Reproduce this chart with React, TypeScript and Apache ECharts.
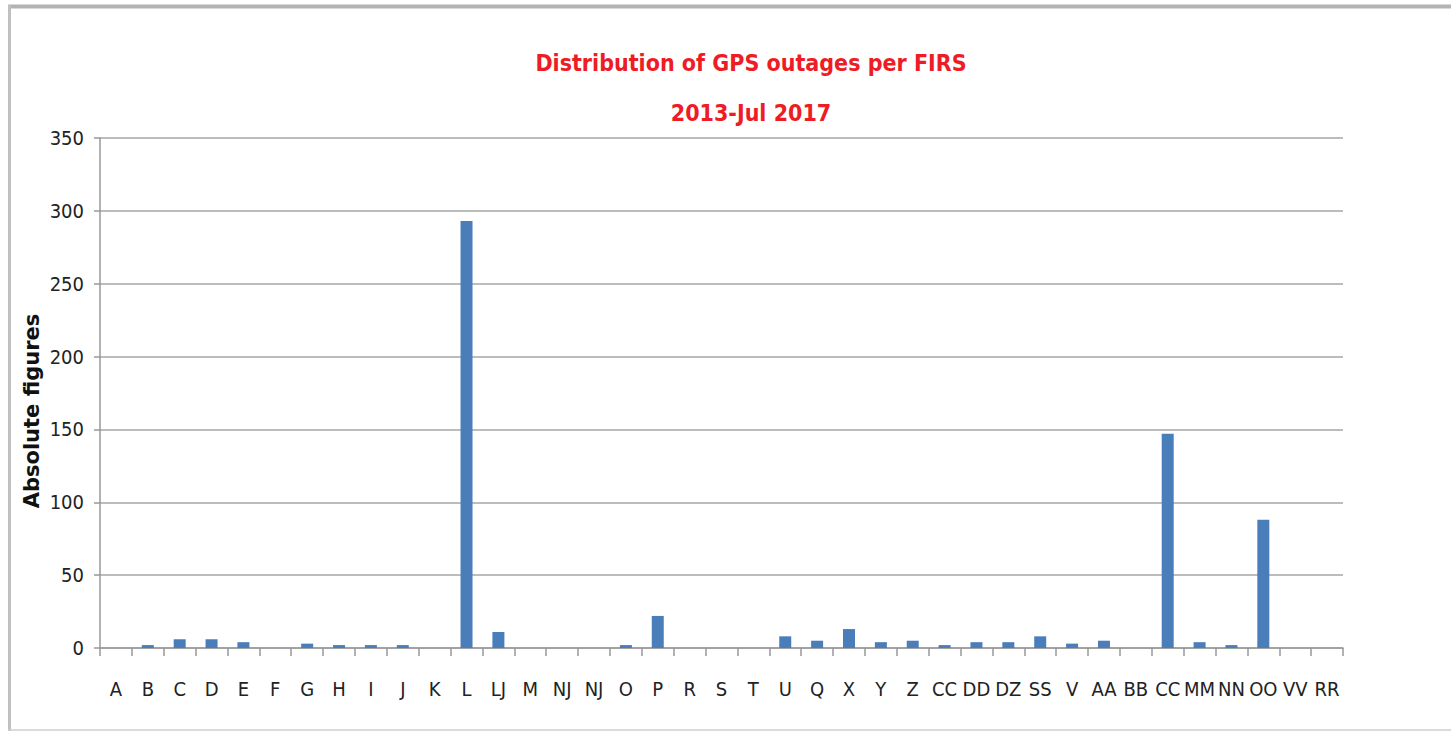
import React, { useEffect, useRef } from "react";
import * as echarts from "echarts";

const categories = [
  "A", "B", "C", "D", "E", "F", "G", "H", "I", "J", "K", "L", "LJ", "M", "NJ", "NJ",
  "O", "P", "R", "S", "T", "U", "Q", "X", "Y", "Z", "CC", "DD", "DZ", "SS", "V", "AA",
  "BB", "CC", "MM", "NN", "OO", "VV", "RR",
];
const outages = [
  0, 2, 6, 6, 4, 0, 3, 2, 2, 2, 0, 293, 11, 0, 0, 0,
  2, 22, 0, 0, 0, 8, 5, 13, 4, 5, 2, 4, 4, 8, 3, 5,
  0, 147, 4, 2, 88, 0, 0,
];
const yTicks = { min: 0, max: 350, interval: 50 };
const titleLines = ["Distribution of GPS outages per FIRS", "2013-Jul 2017"];
const yAxisTitle = "Absolute figures";

const narrow = "'Liberation Sans Narrow', 'DejaVu Sans Condensed', 'Arial Narrow', sans-serif";

export default function App() {
  const ref = useRef<HTMLDivElement>(null);
  useEffect(() => {
    if (!ref.current) return;
    const chart = echarts.init(ref.current, null, { renderer: "svg" });
    chart.setOption({
      animation: false,
      backgroundColor: "#ffffff",
      title: {
        text: titleLines.join("\n"),
        left: 746,
        textAlign: "center",
        top: 33,
        textStyle: {
          color: "#ee1c24",
          fontFamily: narrow,
          fontWeight: "bold",
          fontSize: 23,
          lineHeight: 50,
        },
      },
      grid: { left: 100, right: 108, top: 138, bottom: 83, containLabel: false },
      xAxis: {
        type: "category",
        data: categories,
        boundaryGap: true,
        axisLine: { show: true, lineStyle: { color: "#999999", width: 1.5 } },
        axisTick: { show: true, length: 8, interval: 0, lineStyle: { color: "#999999", width: 1.5 } },
        axisLabel: {
          interval: 0,
          margin: 31,
          color: "#222222",
          fontFamily: narrow,
          fontSize: 20,
        },
        splitLine: { show: false },
      },
      yAxis: {
        type: "value",
        min: yTicks.min,
        max: yTicks.max,
        interval: yTicks.interval,
        axisLine: { show: true, lineStyle: { color: "#999999", width: 1.5 } },
        axisTick: { show: true, length: 6, lineStyle: { color: "#999999", width: 1.5 } },
        axisLabel: {
          margin: 16,
          color: "#222222",
          fontFamily: narrow,
          fontSize: 20,
        },
        splitLine: { show: true, lineStyle: { color: "#a6a6a6", width: 1.5 } },
      },
      series: [
        {
          type: "bar",
          data: outages,
          barWidth: 12,
          itemStyle: { color: "#4a7ebb" },
        },
      ],
      graphic: [
        {
          type: "text",
          x: 32,
          y: 411,
          rotation: Math.PI / 2,
          style: {
            text: yAxisTitle,
            align: "center",
            verticalAlign: "middle",
            fontFamily: "'DejaVu Sans', sans-serif",
            fontWeight: "bold",
            fontSize: 21,
            fill: "#111111",
          },
        },
        {
          type: "line",
          shape: { x1: 8, y1: 6.5, x2: 1451, y2: 6.5 },
          style: { stroke: "#b3b3b3", lineWidth: 4 },
        },
        {
          type: "line",
          shape: { x1: 9.5, y1: 5, x2: 9.5, y2: 731 },
          style: { stroke: "#c0c0c0", lineWidth: 3 },
        },
        {
          type: "line",
          shape: { x1: 8, y1: 730, x2: 1451, y2: 730 },
          style: { stroke: "#cfcfcf", lineWidth: 1.5 },
        },
      ],
    });
    return () => chart.dispose();
  }, []);
  return (
    <div
      ref={ref}
      style={{ position: "fixed", left: 0, top: 0, width: 1451, height: 731 }}
    />
  );
}
